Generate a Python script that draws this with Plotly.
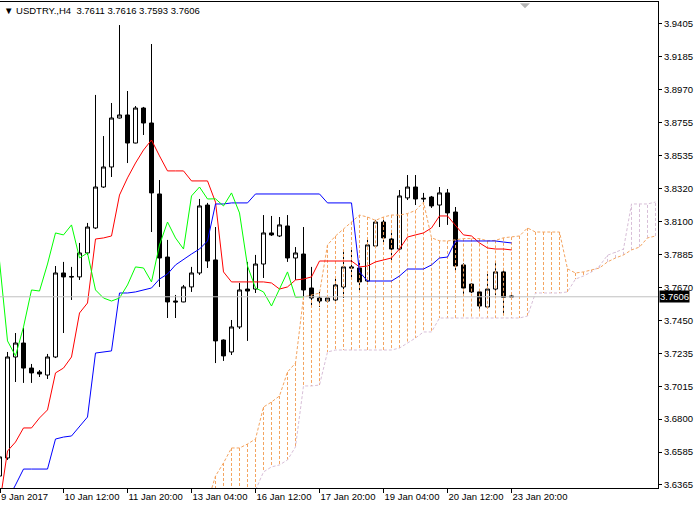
import numpy as np
import plotly.graph_objects as go

# ---------------- data (USDTRY H4, 65 visible bars) ----------------
bars = list(range(65))

open_ = [3.6424, 3.6543, 3.7209, 3.7301, 3.7136, 3.7110, 3.7090, 3.7209, 3.7763, 3.7740,
         3.7737, 3.7895, 3.8060, 3.8330, 3.8462, 3.8785, 3.8805, 3.8620, 3.8851, 3.8752,
         3.8284, 3.7868, 3.7578, 3.7572, 3.7671, 3.7763, 3.8211, 3.7849, 3.7321, 3.7242,
         3.7407, 3.7657, 3.7657, 3.7822, 3.8027, 3.8007, 3.8073, 3.7862, 3.7888, 3.7664,
         3.7598, 3.7578, 3.7585, 3.7671, 3.7803, 3.7796, 3.7710, 3.7941, 3.8099, 3.7987,
         3.7921, 3.8258, 3.8330, 3.8256, 3.8264, 3.8211, 3.8291, 3.8165, 3.7816, 3.7690,
         3.7638, 3.7539, 3.7657, 3.7770, 3.7611]

high = [3.6583, 3.7242, 3.7367, 3.7400, 3.7163, 3.7123, 3.7229, 3.7809, 3.7836, 3.7803,
        3.7961, 3.8093, 3.8937, 3.8666, 3.8884, 3.9398, 3.8963, 3.8864, 3.8858, 3.9273,
        3.8376, 3.7981, 3.7618, 3.7684, 3.7803, 3.8251, 3.8225, 3.8066, 3.7325, 3.7453,
        3.7697, 3.7836, 3.7882, 3.8145, 3.8139, 3.8132, 3.8145, 3.7934, 3.8066, 3.7803,
        3.7638, 3.7605, 3.7730, 3.7901, 3.7915, 3.7829, 3.7981, 3.8113, 3.8132, 3.8047,
        3.8310, 3.8409, 3.8409, 3.8291, 3.8271, 3.8330, 3.8317, 3.8198, 3.7829, 3.7697,
        3.7644, 3.7756, 3.7829, 3.7796, 3.7616]

low = [3.6365, 3.6530, 3.7044, 3.7038, 3.7038, 3.7077, 3.7064, 3.7202, 3.7367, 3.7585,
       3.7717, 3.7882, 3.8053, 3.8324, 3.8396, 3.8782, 3.8488, 3.8618, 3.8673, 3.8033,
       3.7671, 3.7466, 3.7466, 3.7570, 3.7638, 3.7750, 3.7796, 3.7169, 3.7183, 3.7222,
       3.7394, 3.7315, 3.7631, 3.7730, 3.8007, 3.8000, 3.7836, 3.7717, 3.7598, 3.7545,
       3.7539, 3.7565, 3.7572, 3.7598, 3.7717, 3.7638, 3.7704, 3.7934, 3.7961, 3.7849,
       3.7915, 3.8244, 3.8211, 3.8225, 3.8192, 3.8066, 3.8080, 3.7776, 3.7611, 3.7631,
       3.7519, 3.7535, 3.7618, 3.7499, 3.7593]

close = [3.6550, 3.7209, 3.7301, 3.7136, 3.7104, 3.7097, 3.7209, 3.7763, 3.7737, 3.7737,
         3.7895, 3.8066, 3.8330, 3.8462, 3.8785, 3.8805, 3.8620, 3.8851, 3.8752, 3.8291,
         3.7862, 3.7572, 3.7572, 3.7671, 3.7763, 3.8205, 3.7842, 3.7315, 3.7216, 3.7407,
         3.7651, 3.7644, 3.7822, 3.8027, 3.8014, 3.8080, 3.7862, 3.7895, 3.7651, 3.7598,
         3.7578, 3.7598, 3.7684, 3.7803, 3.7796, 3.7704, 3.7948, 3.8099, 3.7994, 3.7921,
         3.8271, 3.8330, 3.8251, 3.8252, 3.8205, 3.8291, 3.8159, 3.7809, 3.7664, 3.7638,
         3.7545, 3.7657, 3.7770, 3.7603, 3.7606]

tenkan = [3.6233, 3.6589, 3.6648, 3.6741, 3.6741, 3.6807, 3.6860, 3.7104, 3.7136, 3.7209,
          3.7499, 3.7565, 3.7987, 3.7994, 3.8007, 3.8277, 3.8390, 3.8488, 3.8574, 3.8640,
          3.8535, 3.8436, 3.8436, 3.8436, 3.8370, 3.8370, 3.8370, 3.8230, 3.7770, 3.7704,
          3.7704, 3.7704, 3.7704, 3.7704, 3.7697, 3.7657, 3.7671, 3.7717, 3.7723, 3.7737,
          3.7842, 3.7842, 3.7842, 3.7842, 3.7842, 3.7803, 3.7809, 3.7836, 3.7849, 3.7862,
          3.7921, 3.8000, 3.8014, 3.8027, 3.8060, 3.8139, 3.8139, 3.8080, 3.8014, 3.8007,
          3.7961, 3.7928, 3.7921, 3.7921, 3.7915]

kijun = [3.6200, 3.6266, 3.6365, 3.6470, 3.6470, 3.6470, 3.6470, 3.6668, 3.6681, 3.6688,
         3.6747, 3.6813, 3.7235, 3.7242, 3.7249, 3.7631, 3.7631, 3.7638, 3.7651, 3.7664,
         3.7723, 3.7756, 3.7816, 3.7855, 3.7888, 3.7921, 3.7974, 3.8218, 3.8218, 3.8225,
         3.8225, 3.8225, 3.8284, 3.8284, 3.8284, 3.8284, 3.8284, 3.8284, 3.8284, 3.8284,
         3.8284, 3.8225, 3.8225, 3.8225, 3.8225, 3.7770, 3.7710, 3.7710, 3.7710, 3.7710,
         3.7743, 3.7789, 3.7789, 3.7789, 3.7816, 3.7862, 3.7868, 3.7974, 3.7974, 3.7974,
         3.7974, 3.7974, 3.7974, 3.7967, 3.7961]

# cloud (shifted 26 bars forward): bars 26 .. 82
cloud_bars = list(range(26, 83))
senkou_a = [3.6250, 3.6424, 3.6510, 3.6609, 3.6609, 3.6635, 3.6668, 3.6879, 3.6912, 3.6952,
            3.7110, 3.7169, 3.7605, 3.7618, 3.7630, 3.7948, 3.8007, 3.8053, 3.8099, 3.8145,
            3.8132, 3.8110, 3.8132, 3.8145, 3.8145, 3.8155, 3.8175, 3.8230, 3.7995, 3.7975,
            3.7974, 3.7980, 3.7990, 3.7990, 3.7990, 3.7975, 3.7978, 3.7995, 3.8000, 3.8007,
            3.8060, 3.8033, 3.8033, 3.8033, 3.8033, 3.7790, 3.7763, 3.7770, 3.7783, 3.7796,
            3.7836, 3.7862, 3.7882, 3.7915, 3.7934, 3.7994, 3.8007]
senkou_b = [3.6200, 3.6210, 3.6220, 3.6230, 3.6240, 3.6260, 3.6330, 3.6451, 3.6484, 3.6497,
            3.6530, 3.6616, 3.7018, 3.7018, 3.7024, 3.7242, 3.7255, 3.7255, 3.7255, 3.7255,
            3.7255, 3.7255, 3.7255, 3.7255, 3.7268, 3.7301, 3.7334, 3.7374, 3.7374, 3.7466,
            3.7466, 3.7466, 3.7466, 3.7466, 3.7466, 3.7466, 3.7466, 3.7466, 3.7466, 3.7466,
            3.7479, 3.7631, 3.7631, 3.7631, 3.7631, 3.7638, 3.7723, 3.7743, 3.7770, 3.7809,
            3.7880, 3.7900, 3.7921, 3.8218, 3.8218, 3.8218, 3.8231]

x_tick_bars = [0, 8, 16, 24, 32, 40, 48, 56, 64]
x_tick_labels = ["9 Jan 2017", "10 Jan 12:00", "11 Jan 20:00", "13 Jan 04:00", "16 Jan 12:00",
                 "17 Jan 20:00", "19 Jan 04:00", "20 Jan 12:00", "23 Jan 20:00"]
y_tick_labels = ["3.6365", "3.6585", "3.6800", "3.7015", "3.7235", "3.7450", "3.7670", "3.7885",
                 "3.8100", "3.8320", "3.8535", "3.8755", "3.8970", "3.9185", "3.9405"]

symbol = "USDTRY.,H4"
last_ohlc = [3.7611, 3.7616, 3.7593, 3.7606]
chikou_shift = 26

# ---------------- figure ----------------
FONT = "Liberation Sans, Arial, sans-serif"
SANDY = "rgb(244,164,96)"
THISTLE = "rgb(216,191,216)"
X_RANGE = [0.0625, 82.3125]

fig = go.Figure()

fig.add_trace(go.Candlestick(
    x=bars, open=open_, high=high, low=low, close=close,
    increasing=dict(line=dict(color="black", width=1), fillcolor="white"),
    decreasing=dict(line=dict(color="black", width=1), fillcolor="black"),
    whiskerwidth=0, showlegend=False, hoverinfo="skip"))

# cloud hatch: vertical dashed segments between span A and span B
hatch = {SANDY: ([], []), THISTLE: ([], [])}
for xb, a, b in zip(cloud_bars, senkou_a, senkou_b):
    if xb < 27:
        continue
    col = SANDY if a >= b else THISTLE
    hatch[col][0].extend([xb, xb, None])
    hatch[col][1].extend([a, b, None])
for col, (hxs, hys) in hatch.items():
    fig.add_trace(go.Scatter(x=hxs, y=hys, mode="lines",
                             line=dict(color=col, width=1, dash="3px,2px"),
                             showlegend=False, hoverinfo="skip"))

fig.add_trace(go.Scatter(x=cloud_bars, y=senkou_a, mode="lines",
                         line=dict(color=SANDY, width=1, dash="3px,2px"),
                         showlegend=False, hoverinfo="skip"))
fig.add_trace(go.Scatter(x=cloud_bars, y=senkou_b, mode="lines",
                         line=dict(color=THISTLE, width=1, dash="3px,2px"),
                         showlegend=False, hoverinfo="skip"))
fig.add_trace(go.Scatter(x=bars, y=tenkan, mode="lines",
                         line=dict(color="#FF0000", width=1),
                         showlegend=False, hoverinfo="skip"))
fig.add_trace(go.Scatter(x=bars, y=kijun, mode="lines",
                         line=dict(color="#0000FF", width=1),
                         showlegend=False, hoverinfo="skip"))
fig.add_trace(go.Scatter(x=bars[:len(bars) - chikou_shift], y=close[chikou_shift:], mode="lines",
                         line=dict(color="#00FF00", width=1),
                         showlegend=False, hoverinfo="skip"))

# bid line
fig.add_shape(type="line", xref="paper", x0=0, x1=1, yref="y",
              y0=last_ohlc[3], y1=last_ohlc[3], line=dict(color="#C0C0C0", width=1))

# chart shift marker
fig.add_shape(type="path", xref="paper", yref="paper",
              path="M 0.7903,0.9975 L 0.8055,0.9975 L 0.7979,0.9870 Z",
              fillcolor="#B4B4B4", line=dict(width=0))

fig.add_annotation(xref="paper", yref="paper", x=0.003, y=0.997, xanchor="left", yanchor="top",
                   text="\u25BC " + symbol + "\u00a0\u00a0" + " ".join(f"{v:.4f}" for v in last_ohlc),
                   showarrow=False, font=dict(family=FONT, size=9.5, color="black"))

fig.add_annotation(xref="paper", yref="y", x=1, y=last_ohlc[3], xanchor="left", yanchor="middle",
                   xshift=1, text=f"{last_ohlc[3]:.4f}", showarrow=False, bgcolor="black",
                   borderpad=0, font=dict(family=FONT, size=9.5, color="white"))

y_ticks = np.linspace(float(y_tick_labels[0]), float(y_tick_labels[-1]), len(y_tick_labels))
x_ticks = [max(t, X_RANGE[0]) for t in x_tick_bars]

fig.update_layout(
    width=700, height=506,
    margin=dict(l=0, r=42, t=2, b=18),
    paper_bgcolor="white", plot_bgcolor="white",
    font=dict(family=FONT, size=9.5, color="black"),
    showlegend=False, hovermode=False, boxgap=0.5, boxgroupgap=0,
    xaxis=dict(range=X_RANGE, tickmode="array", tickvals=x_ticks,
               ticktext=x_tick_labels, ticks="outside", ticklen=4, tickcolor="black",
               ticklabelposition="outside right", showline=True, linecolor="black",
               linewidth=1, mirror=True, showgrid=False, zeroline=False,
               rangeslider=dict(visible=False), automargin=False),
    yaxis=dict(range=[3.6345, 3.9550], side="right", tickmode="array", tickvals=y_ticks,
               ticktext=y_tick_labels, ticks="outside", ticklen=3, tickcolor="black",
               showline=True, linecolor="black", linewidth=1, mirror=True,
               showgrid=False, zeroline=False, automargin=False),
)

fig.write_html("out.html", config={"displayModeBar": False},
               post_script="document.body.style.margin='0';")
